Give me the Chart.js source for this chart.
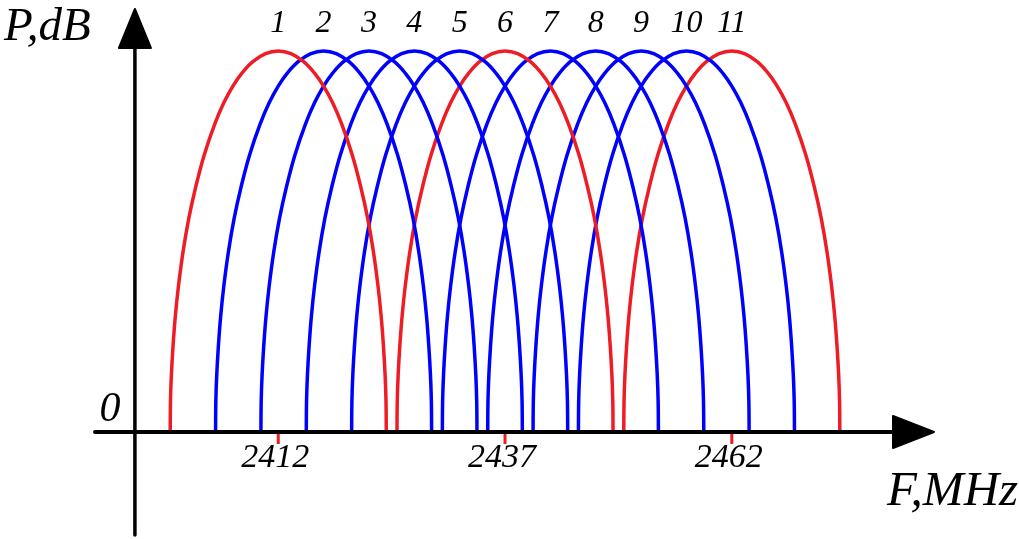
<!DOCTYPE html>
<html>
<head>
<meta charset="utf-8">
<script src="https://cdn.jsdelivr.net/npm/chart.js@4"></script>
<style>
  html, body { margin: 0; padding: 0; background: #fff; }
  #wrap { width: 1019px; height: 539px; }
</style>
</head>
<body>
<div id="wrap"><canvas id="chart-spectrum" width="1019" height="539"></canvas></div>
<script>
// Channel data
const CHANNELS = [1, 2, 3, 4, 5, 6, 7, 8, 9, 10, 11];
const CENTERS = [2412, 2417, 2422, 2427, 2432, 2437, 2442, 2447, 2452, 2457, 2462];
const RED_CHANNELS = [1, 6, 11];
const TICK_VALUES = [2412, 2437, 2462];

const PROFILE_OFFSET = [0, 1.4, 2.8, 4.0, 5.0, 6.0, 7.0, 8.15, 9.1, 9.85, 10.5, 11.0, 11.35, 11.6, 11.78, 11.88, 11.91];
const PROFILE_LEVEL = [1, 0.993, 0.972, 0.942, 0.908, 0.864, 0.808, 0.728, 0.643, 0.562, 0.472, 0.383, 0.303, 0.225, 0.15, 0.08, 0];

const RED = "#ee1c25";
const BLUE = "#0000ff";
const Y_AXIS_AT = 2396.2;

const arcPoints = (center) => {
  const pts = [];
  for (let i = PROFILE_OFFSET.length - 1; i > 0; i--) {
    pts.push({ x: center - PROFILE_OFFSET[i], y: PROFILE_LEVEL[i] });
  }
  for (let i = 0; i < PROFILE_OFFSET.length; i++) {
    pts.push({ x: center + PROFILE_OFFSET[i], y: PROFILE_LEVEL[i] });
  }
  return pts;
};

const DATA = {
  datasets: CHANNELS.map((ch, i) => ({
    label: String(ch),
    data: arcPoints(CENTERS[i]),
    borderColor: RED_CHANNELS.includes(ch) ? RED : BLUE,
    backgroundColor: "transparent",
    borderWidth: 3.5,
    pointRadius: 0,
    tension: 0.4,
    fill: false,
    clip: false,
  })),
};

// Axes, arrows and labels
const axesPlugin = {
  id: "axes",
  afterDatasetsDraw(chart) {
    const { ctx, scales } = chart;
    const x = scales.x;
    const y = scales.y;
    const x0 = y.getPixelForValue(0);
    const yAx = x.getPixelForValue(Y_AXIS_AT);
    const left = chart.chartArea.left;
    const right = chart.chartArea.right;
    const top = chart.chartArea.top;
    const bottom = chart.chartArea.bottom;

    ctx.save();
    ctx.strokeStyle = "#000";
    ctx.fillStyle = "#000";
    ctx.lineCap = "round";
    ctx.lineJoin = "round";

    // x axis
    ctx.lineWidth = 4;
    ctx.beginPath();
    ctx.moveTo(left, x0);
    ctx.lineTo(right - 40, x0);
    ctx.stroke();
    ctx.lineWidth = 2;
    ctx.beginPath();
    ctx.moveTo(right - 42, x0 - 16);
    ctx.lineTo(right - 1, x0);
    ctx.lineTo(right - 42, x0 + 16);
    ctx.closePath();
    ctx.fill();
    ctx.stroke();

    // y axis
    ctx.lineWidth = 3.5;
    ctx.beginPath();
    ctx.moveTo(yAx, bottom - 1);
    ctx.lineTo(yAx, top + 38);
    ctx.stroke();
    ctx.lineWidth = 2;
    ctx.beginPath();
    ctx.moveTo(yAx - 16, top + 40);
    ctx.lineTo(yAx, top + 1);
    ctx.lineTo(yAx + 16, top + 40);
    ctx.closePath();
    ctx.fill();
    ctx.stroke();

    // red ticks
    ctx.strokeStyle = RED;
    ctx.lineWidth = 3;
    ctx.lineCap = "butt";
    TICK_VALUES.forEach((v) => {
      const px = x.getPixelForValue(v);
      ctx.beginPath();
      ctx.moveTo(px, x0 + 2);
      ctx.lineTo(px, x0 + 12);
      ctx.stroke();
    });

    // labels
    ctx.fillStyle = "#000";
    ctx.textBaseline = "alphabetic";
    ctx.textAlign = "center";
    ctx.font = "italic 34px 'Liberation Serif', serif";
    TICK_VALUES.forEach((v) => {
      ctx.fillText(String(v), x.getPixelForValue(v) - 3, x0 + 35);
    });

    ctx.font = "italic 32px 'Liberation Serif', serif";
    CHANNELS.forEach((ch, i) => {
      ctx.fillText(String(ch), x.getPixelForValue(CENTERS[i]), 32);
    });

    ctx.font = "italic 42px 'Liberation Serif', serif";
    ctx.fillText("0", yAx - 25, x0 - 11);

    ctx.textAlign = "left";
    ctx.font = "italic 47px 'Liberation Serif', serif";
    ctx.fillText("P,dB", 4, 40);
    ctx.font = "italic 49px 'Liberation Serif', serif";
    ctx.fillText("F,MHz", 887, 505);
    ctx.restore();
  },
};

// Chart config
const CONFIG = {
  type: "line",
  data: DATA,
  options: {
    responsive: false,
    animation: false,
    devicePixelRatio: 1,
    layout: {
      padding: { left: 95, right: 84, top: 8, bottom: 3 },
    },
    plugins: {
      legend: { display: false },
      title: { display: false },
      tooltip: { enabled: false },
    },
    scales: {
      x: {
        type: "linear",
        display: false,
        min: 2391.8,
        max: 2484.4,
      },
      y: {
        display: false,
        min: -0.273,
        max: 1.113,
      },
    },
  },
  plugins: [axesPlugin],
};

new Chart(document.getElementById("chart-spectrum"), CONFIG);
</script>
</body>
</html>
